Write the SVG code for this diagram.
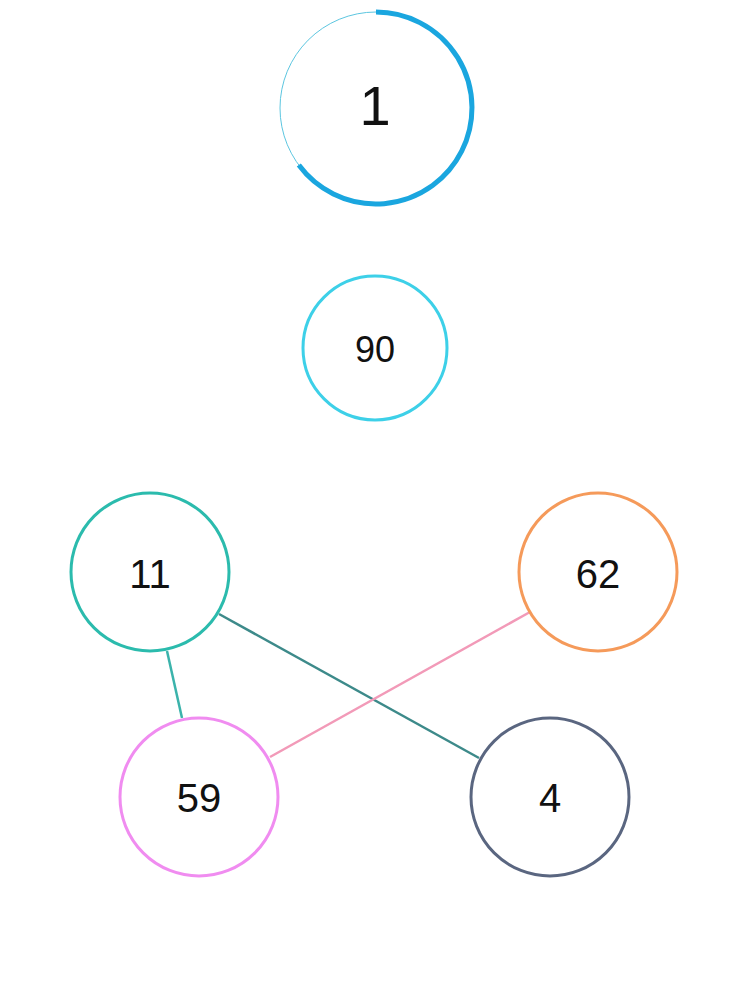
<svg xmlns="http://www.w3.org/2000/svg" width="750" height="1000" viewBox="0 0 750 1000">
<style>
.n{fill:#fff;stroke-width:3}
.t{font-family:"Liberation Sans",Arial,sans-serif;text-anchor:middle;dominant-baseline:central;fill:#111}
.e{stroke-width:2.5;fill:none}
</style>
<rect width="750" height="1000" fill="#fff"/>
<g id="edges">
<line class="e" x1="167" y1="651" x2="182" y2="718" stroke="#3bb3ab"/>
<line class="e" x1="219" y1="614" x2="479" y2="758" stroke="#3d8a8a"/>
<line class="e" x1="530" y1="612" x2="270" y2="757" stroke="#f29ab8"/>
</g>
<g id="node1">
<circle cx="376" cy="108" r="96" fill="#fff" stroke="#5cc6e0" stroke-width="1"/>
<path d="M376,12 A96,96 0 1 1 298.8,165.1" fill="none" stroke="#1aa6df" stroke-width="5"/>
<text class="t" x="375" y="105" font-size="56">1</text>
</g>
<g id="node90"><circle class="n" cx="375" cy="348" r="72" stroke="#3dd0e8"/><text class="t" x="375" y="349" font-size="36">90</text></g>
<g id="node11"><circle class="n" cx="150" cy="572" r="79" stroke="#2bbbad"/><text class="t" x="150" y="574" font-size="40">11</text></g>
<g id="node62"><circle class="n" cx="598" cy="572" r="79" stroke="#f59a5a"/><text class="t" x="598" y="574" font-size="40">62</text></g>
<g id="node59"><circle class="n" cx="199" cy="797" r="79" stroke="#f08cf0"/><text class="t" x="199" y="798" font-size="40">59</text></g>
<g id="node4"><circle class="n" cx="550" cy="797" r="79" stroke="#5a6680"/><text class="t" x="550" y="798" font-size="40">4</text></g>
</svg>
